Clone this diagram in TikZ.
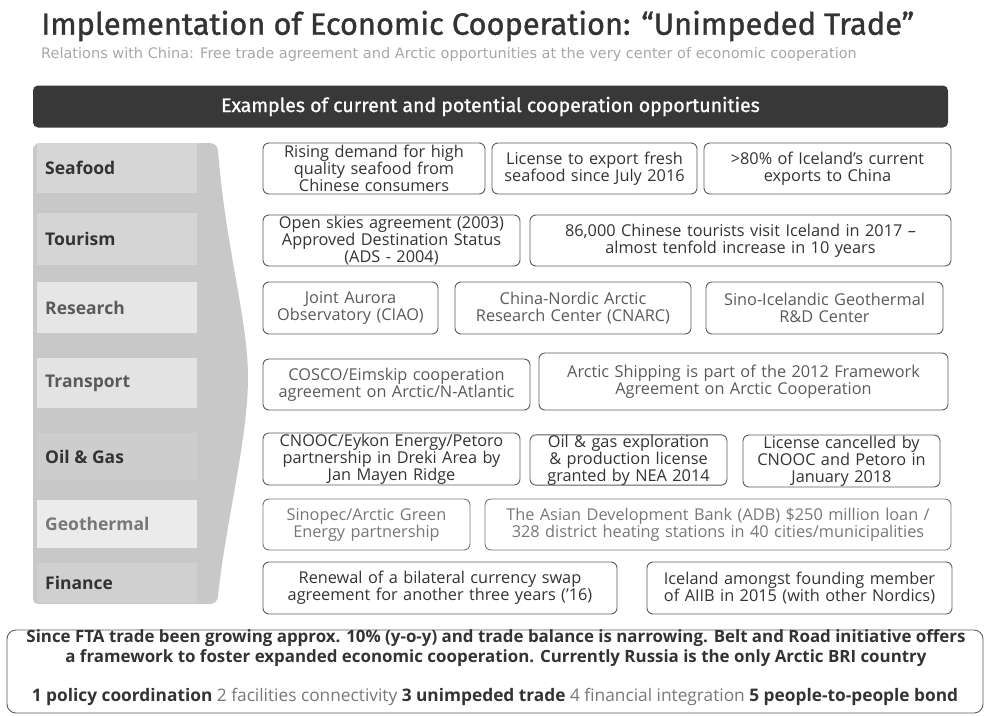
\documentclass[tikz,border=0pt]{standalone}
\usepackage{fontspec}
\setmainfont{Open Sans}
\newfontfamily\titlefont{Fira Sans}
\newfontfamily\subfont{DejaVu Sans}
\definecolor{ink}{HTML}{333333}
\definecolor{midink}{HTML}{5A5A5A}
\definecolor{paleink}{HTML}{777777}
\definecolor{barfill}{HTML}{383838}
\definecolor{colfill}{HTML}{C8C8C8}
\tikzset{
  opbox/.style 2 args={draw=midink,line width=0.9pt,rounded corners=6pt,inner xsep=0pt,inner ysep=0pt,
    minimum width=#1,text width=#1,minimum height=#2,align=center,
    font=\fontsize{16.3}{17}\selectfont},
  sectorlab/.style={anchor=west,inner sep=0pt,font=\fontsize{17.5}{19}\selectfont\bfseries}
}
\begin{document}
\begin{tikzpicture}[x=1pt,y=-1pt,line cap=round]
 \useasboundingbox (0,0) rectangle (987,715);
 % title block
 \node[anchor=west,inner sep=0pt,text=ink,font=\titlefont\fontsize{30.8}{34}\selectfont\addfontfeature{FakeBold=1.2}] (title) at (41,26) {Implementation of Economic Cooperation: “Unimpeded Trade”};
 \node[anchor=west,inner sep=0pt,text=paleink!65,font=\subfont\fontsize{14.5}{16}\selectfont] (subtitle) at (41,54) {Relations with China: Free trade agreement and Arctic opportunities at the very center of economic cooperation};
 \node[fill=barfill,rounded corners=5pt,minimum width=915pt,minimum height=42pt,text=white,font=\titlefont\fontsize{19.5}{22}\selectfont\addfontfeature{FakeBold=1}] (bar) at (490.5,106.5) {Examples of current and potential cooperation opportunities};
 % sector column
 \fill[colfill] (33,147) to[out=-90,in=180] (38,143) -- (210,143) to[out=0,in=90] (218,151)
  .. controls (226,250) and (248,320) .. (248,377) .. controls (248,440) and (226,520) .. (218,596)
  to[out=-90,in=0] (210,604) -- (38,604) to[out=180,in=-90] (33,599) -- cycle;
 \foreach \ya/\yb/\sh/\lab/\col/\nm in {143/193/25/Seafood/ink/sea,213/265/24/Tourism/ink/tour,282/333/55/Research/midink/res,
   358/408/49/Transport/midink/tra,433/480/9/Oil \& Gas/ink/oil,500/548/64/Geothermal/paleink/geo,563/603/15/Finance/ink/fin}
 {
  \fill[white!\sh!colfill] (37,\ya) rectangle (197,\yb);
  \node[sectorlab,text=\col] (\nm) at (45,{(\ya+\yb)/2}) {\lab};
 }
 % seafood
 \node[opbox={222pt}{51pt},text=ink] (sea1) at (374,168.5) {Rising demand for high\\quality seafood from\\Chinese consumers};
 \node[opbox={205pt}{51pt},text=ink] (sea2) at (594.5,168.5) {License to export fresh\\seafood since July 2016};
 \node[opbox={247pt}{51pt},text=ink] (sea3) at (827.5,168.5) {>80\% of Iceland's current\\exports to China};
 % tourism
 \node[opbox={257pt}{51pt},text=ink] (tour1) at (391.5,240.5) {Open skies agreement (2003)\\Approved Destination Status\\(ADS - 2004)};
 \node[opbox={421pt}{51pt},text=ink] (tour2) at (740.5,240.5) {86,000 Chinese tourists visit Iceland in 2017 –\\almost tenfold increase in 10 years};
 % research
 \node[opbox={175pt}{52pt},text=midink] (res1) at (350.5,308) {Joint Aurora\\Observatory (CIAO)};
 \node[opbox={236pt}{52pt},text=midink] (res2) at (573,308) {China-Nordic Arctic\\Research Center (CNARC)};
 \node[opbox={237pt}{52pt},text=midink] (res3) at (824.5,308) {Sino-Icelandic Geothermal\\R\&D Center};
 % transport
 \node[opbox={267pt}{51pt},text=midink] (tra1) at (396.5,384.5) {COSCO/Eimskip cooperation\\agreement on Arctic/N-Atlantic};
 \node[opbox={409pt}{57pt},text=midink] (tra2) at (743.5,381.5) {Arctic Shipping is part of the 2012 Framework\\Agreement on Arctic Cooperation};
 % oil and gas
 \node[opbox={257pt}{52pt},text=ink] (oil1) at (391.5,459) {CNOOC/Eykon Energy/Petoro\\partnership in Dreki Area by\\Jan Mayen Ridge};
 \node[opbox={197pt}{50pt},text=ink] (oil2) at (628.5,460) {Oil \& gas exploration\\\& production license\\granted by NEA 2014};
 \node[opbox={197pt}{52pt},text=ink] (oil3) at (841.5,461) {License cancelled by\\CNOOC and Petoro in\\January 2018};
 % geothermal
 \node[opbox={207pt}{51pt},text=paleink,draw=paleink] (geo1) at (366.5,524.5) {Sinopec/Arctic Green\\Energy partnership};
 \node[opbox={466pt}{51pt},text=paleink,draw=paleink] (geo2) at (718,524.5) {The Asian Development Bank (ADB) \$250 million loan /\\328 district heating stations in 40 cities/municipalities};
 % finance
 \node[opbox={354pt}{52pt},text=ink] (fin1) at (440,588) {Renewal of a bilateral currency swap\\agreement for another three years ('16)};
 \node[opbox={305pt}{52pt},text=ink] (fin2) at (799.5,588) {Iceland amongst founding member\\of AIIB in 2015 (with other Nordics)};
 % summary
 \node[draw=midink,line width=0.9pt,rounded corners=9pt,minimum width=976pt,minimum height=83pt] (summary) at (495,671.5) {};
 \node[text=ink,align=center,inner sep=0pt,font=\fontsize{16.9}{20}\selectfont\bfseries] (fta) at (496,648) {Since FTA trade been growing approx. 10\% (y-o-y) and trade balance is narrowing. Belt and Road initiative offers\\a framework to foster expanded economic cooperation. Currently Russia is the only Arctic BRI country};
 \node[inner sep=0pt,font=\fontsize{17.3}{19}\selectfont\bfseries] (pillars) at (495,697) {\textcolor{ink}{1 policy coordination} \textcolor{paleink}{\mdseries 2 facilities connectivity} \textcolor{ink}{3 unimpeded trade} \textcolor{paleink}{\mdseries 4 financial integration} \textcolor{ink}{5 people-to-people bond}};
\end{tikzpicture}
\end{document}
